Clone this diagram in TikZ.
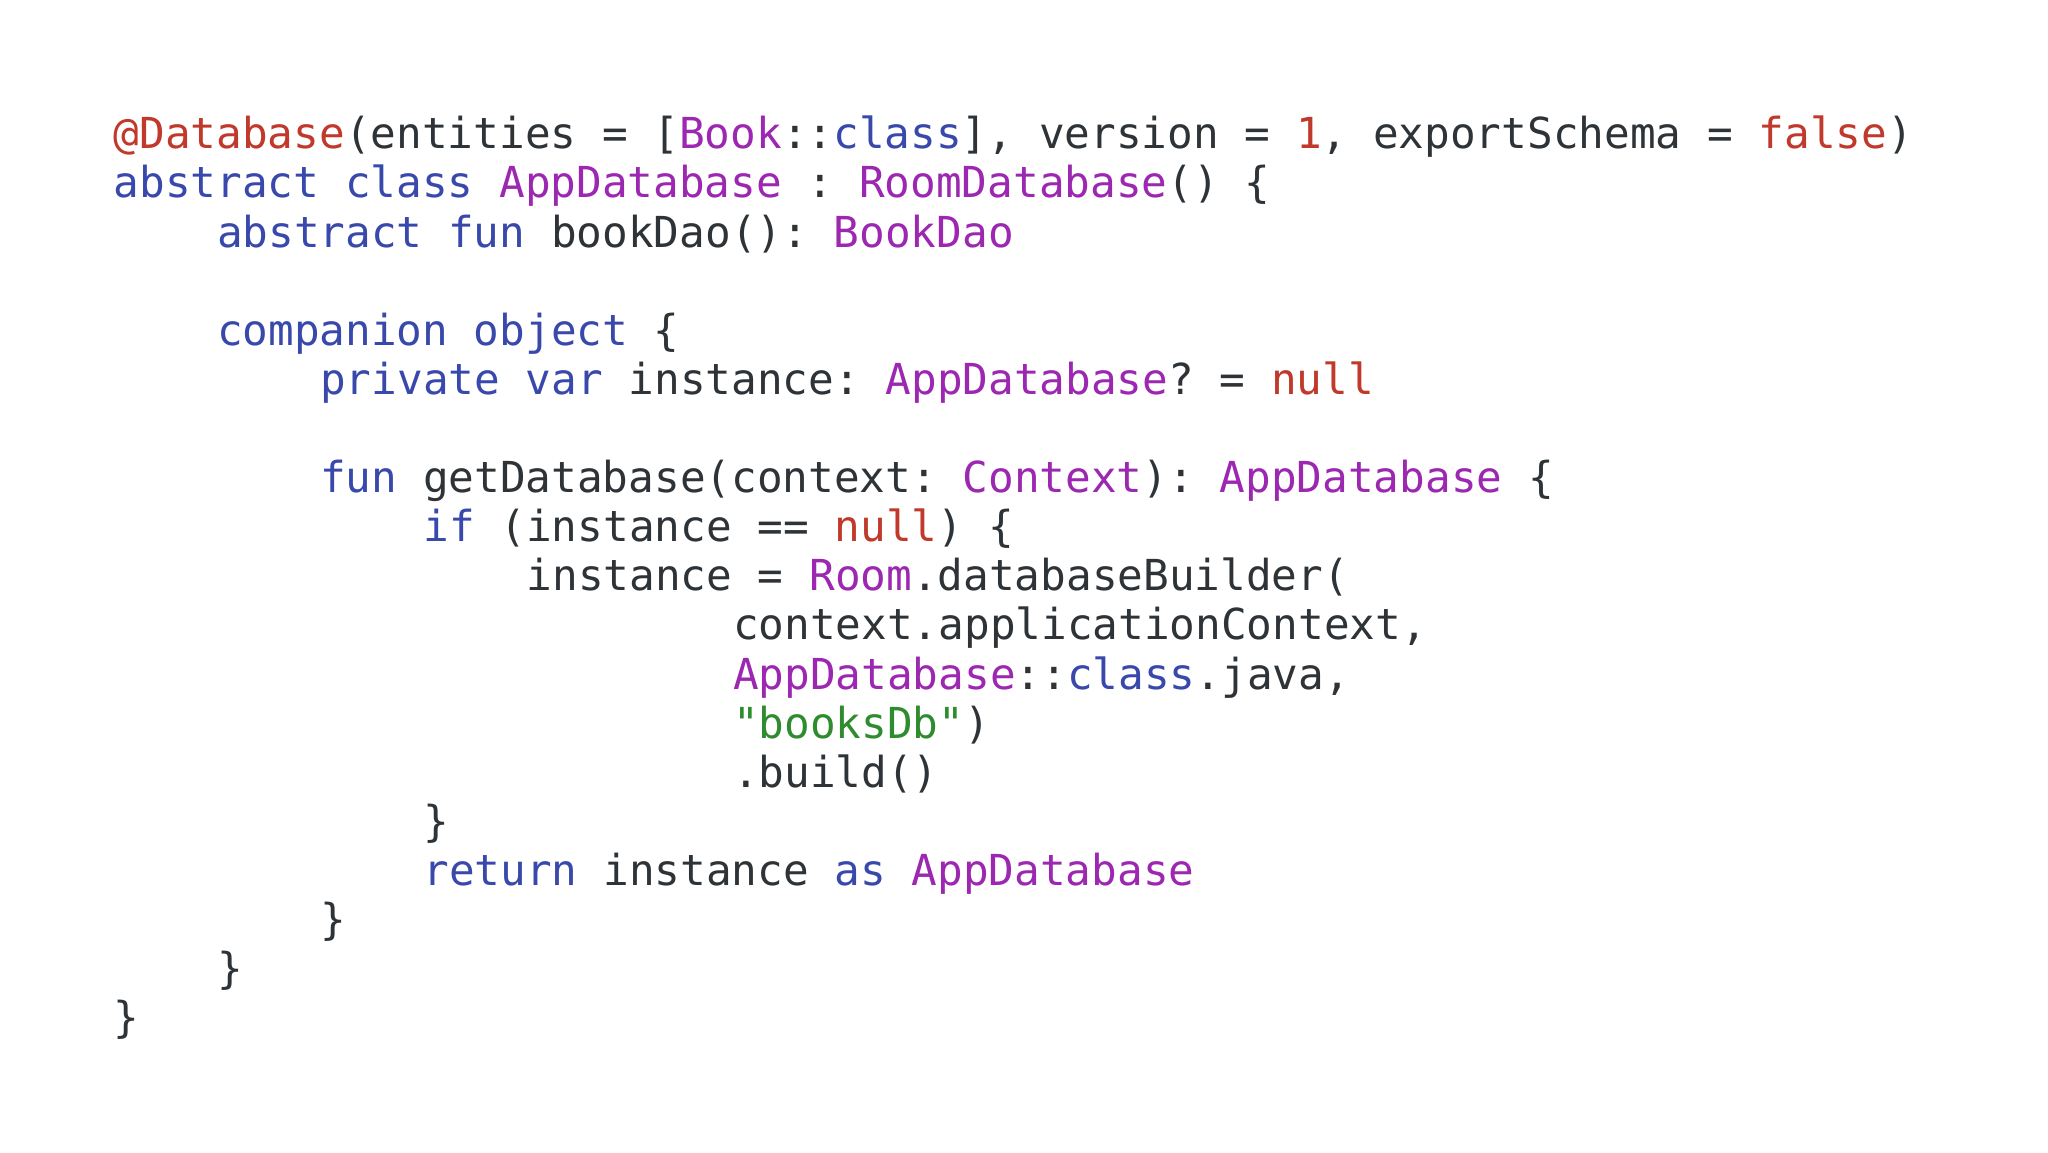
\documentclass[tikz,border=0pt]{standalone}
\usepackage{fontspec}
\setmonofont{DejaVu Sans Mono}
\definecolor{tx}{HTML}{2E3338}
\definecolor{kw}{HTML}{3949AB}
\definecolor{ty}{HTML}{9C27B0}
\definecolor{rd}{HTML}{C0392B}
\definecolor{gr}{HTML}{2E8B2E}
\newcommand\Kw[1]{\textcolor{kw}{#1}}
\newcommand\Ty[1]{\textcolor{ty}{#1}}
\newcommand\Rd[1]{\textcolor{rd}{#1}}
\newcommand\Gr[1]{\textcolor{gr}{#1}}
\tikzset{codeline/.style={anchor=base west,inner sep=0pt,text=tx,font=\ttfamily\fontsize{42.85}{49}\selectfont}}
\begin{document}
\begin{tikzpicture}[x=1bp,y=-1bp]
\useasboundingbox[fill=white] (0,0) rectangle (2048,1152);
\def\cw{25.8}
\newcommand\Ln[3]{\node[codeline] (l#1) at ({113.6+#2*\cw},{(114+37.6*#1)*1.306}) {#3};}
\Ln{0}{0}{\Rd{@Database}(entities = [\Ty{Book}::\Kw{class}], version = \Rd{1}, exportSchema = \Rd{false})}
\Ln{1}{0}{\Kw{abstract class} \Ty{AppDatabase} : \Ty{RoomDatabase}() \{}
\Ln{2}{4}{\Kw{abstract fun} bookDao(): \Ty{BookDao}}
\Ln{4}{4}{\Kw{companion object} \{}
\Ln{5}{8}{\Kw{private var} instance: \Ty{AppDatabase}? = \Rd{null}}
\Ln{7}{8}{\Kw{fun} getDatabase(context: \Ty{Context}): \Ty{AppDatabase} \{}
\Ln{8}{12}{\Kw{if} (instance == \Rd{null}) \{}
\Ln{9}{16}{instance = \Ty{Room}.databaseBuilder(}
\Ln{10}{24}{context.applicationContext,}
\Ln{11}{24}{\Ty{AppDatabase}::\Kw{class}.java,}
\Ln{12}{24}{\Gr{"booksDb"})}
\Ln{13}{24}{.build()}
\Ln{14}{12}{\}}
\Ln{15}{12}{\Kw{return} instance \Kw{as} \Ty{AppDatabase}}
\Ln{16}{8}{\}}
\Ln{17}{4}{\}}
\Ln{18}{0}{\}}
\end{tikzpicture}
\end{document}
